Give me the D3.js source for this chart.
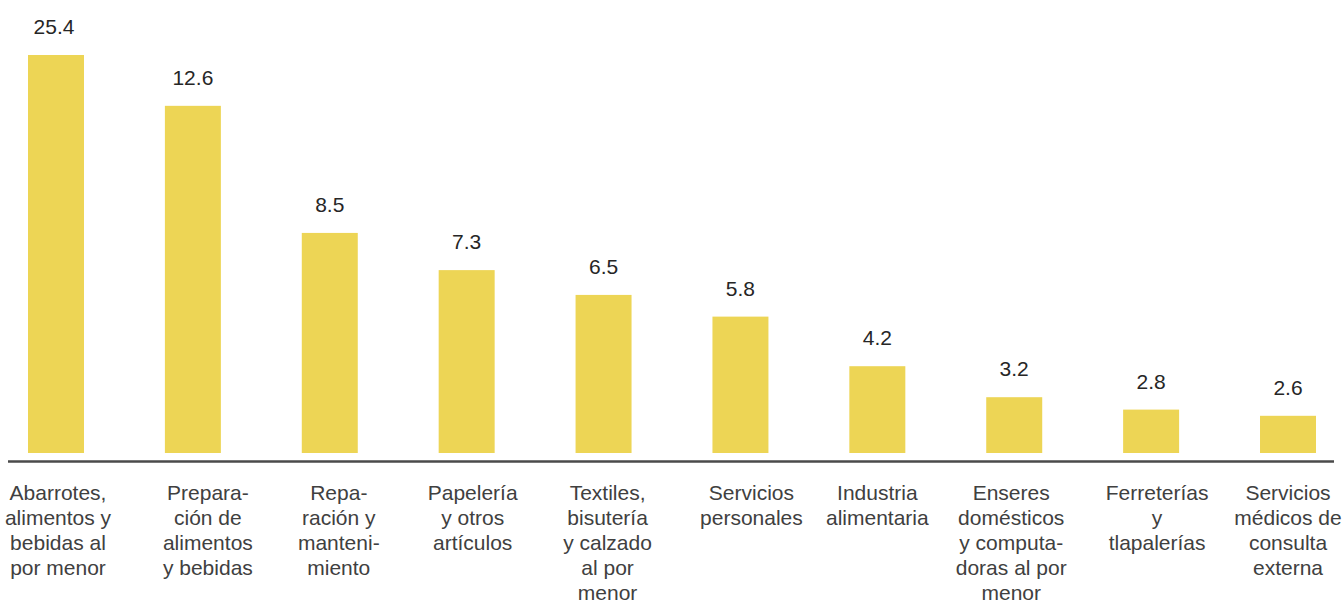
<!DOCTYPE html>
<html>
<head>
<meta charset="utf-8">
<script src="https://cdn.jsdelivr.net/npm/d3@7"></script>
<style>
  html, body { margin: 0; padding: 0; background: #fff; }
  svg { display: block; font-family: "Liberation Sans", Arial, Helvetica, sans-serif; }
</style>
</head>
<body>
<svg id="chart" width="1343" height="605"></svg>
<script>
// Category labels, one entry per line of the wrapped label
const categories = [
  ["Abarrotes,", "alimentos y", "bebidas al", "por menor"],
  ["Prepara-", "ción de", "alimentos", "y bebidas"],
  ["Repa-", "ración y", "manteni-", "miento"],
  ["Papelería", "y otros", "artículos"],
  ["Textiles,", "bisutería", "y calzado", "al por", "menor"],
  ["Servicios", "personales"],
  ["Industria", "alimentaria"],
  ["Enseres", "domésticos", "y computa-", "doras al por", "menor"],
  ["Ferreterías", "y", "tlapalerías"],
  ["Servicios", "médicos de", "consulta", "externa"]
];
// Share of establishments (%)
const values = [25.4, 12.6, 8.5, 7.3, 6.5, 5.8, 4.2, 3.2, 2.8, 2.6];
// Value axis extent (the tallest bar is capped at the top of the range)
const valueDomain = [1.4, 14.24];

// Layout
const baseline = 453;
const axisY = 461.5;
// small horizontal nudges of the category labels off their bar centres
const labelShift = [2, 15, 9, 6, 4, 11, 0, -3, 6, 0];

const svg = d3.select("#chart");

const x = d3.scaleBand()
  .domain(d3.range(values.length))
  .range([28, 1316])
  .paddingInner(0.591)
  .paddingOuter(0);

const y = d3.scaleLinear()
  .domain(valueDomain)
  .range([baseline, 55])
  .clamp(true);

const cx = i => x(i) + x.bandwidth() / 2;

// bars
svg.append("g")
  .selectAll("rect")
  .data(values)
  .join("rect")
  .attr("x", (d, i) => x(i))
  .attr("width", x.bandwidth())
  .attr("y", d => y(d))
  .attr("height", d => baseline - y(d))
  .attr("fill", "#edd555");

// value labels
svg.append("g")
  .selectAll("text")
  .data(values)
  .join("text")
  .attr("x", (d, i) => cx(i) - (i === 0 ? 2 : 0))
  .attr("y", d => y(d) - 21)
  .attr("text-anchor", "middle")
  .attr("font-size", 21)
  .attr("fill", "#262626")
  .text(d => d.toFixed(1));

// baseline axis
svg.append("line")
  .attr("x1", 8).attr("x2", 1334)
  .attr("y1", axisY).attr("y2", axisY)
  .attr("stroke", "#4a4a4a")
  .attr("stroke-width", 2.4);

// category labels
const labels = svg.append("g")
  .selectAll("text")
  .data(categories)
  .join("text")
  .attr("y", 500)
  .attr("text-anchor", "middle")
  .attr("font-size", 21)
  .attr("fill", "#404040");

labels.selectAll("tspan")
  .data((d, i) => d.map(t => ({ t, px: cx(i) + labelShift[i] })))
  .join("tspan")
  .attr("x", d => d.px)
  .attr("dy", (d, j) => j === 0 ? 0 : 25)
  .text(d => d.t);
</script>
</body>
</html>
